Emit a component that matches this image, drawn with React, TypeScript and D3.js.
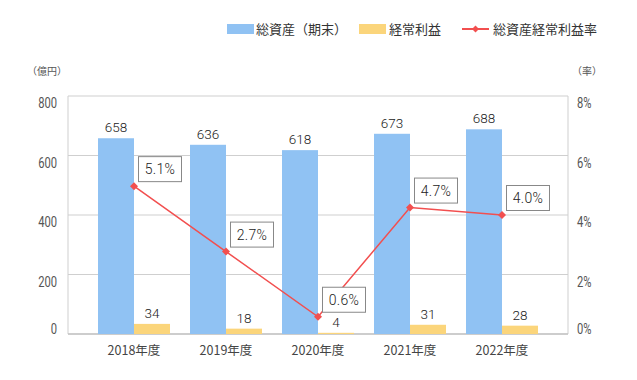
import React from "react";
import * as d3 from "d3";

const categories = ["2018年度", "2019年度", "2020年度", "2021年度", "2022年度"];
const totalAssets = [658, 636, 618, 673, 688];
const ordinaryProfit = [34, 18, 4, 31, 28];
const rateValues = [4.97, 2.77, 0.58, 4.25, 4.0];
const rateLabels = ["5.1%", "2.7%", "0.6%", "4.7%", "4.0%"];
const leftTicks = [0, 200, 400, 600, 800];
const rightTicks = [0, 2, 4, 6, 8];
const legendLabels = ["総資産（期末）", "経常利益", "総資産経常利益率"];

const W = 637;
const H = 380;
const plot = { left: 68, right: 568, top: 96, bottom: 334 };
const BLUE = "#90c2f3";
const YELLOW = "#fbd57b";
const RED = "#f24f4f";
const GRID = "#cfcfcf";
const CJK = "'Noto Sans CJK JP', 'Noto Sans', sans-serif";
const NUM = "Roboto, 'Noto Sans', sans-serif";
const COND = "Roboto, 'DejaVu Sans', sans-serif";

export default function App() {
  const x = d3
    .scaleBand<string>()
    .domain(categories)
    .range([plot.left + 20, plot.right - 20])
    .padding(0);
  const yL = d3.scaleLinear().domain([0, 800]).range([plot.bottom, plot.top]);
  const yR = d3.scaleLinear().domain([0, 8]).range([plot.bottom, plot.top]);
  const barW = 36;
  const center = (c: string) => (x(c) as number) + x.bandwidth() / 2;

  const line = d3
    .line<number>()
    .x((_, i) => center(categories[i]))
    .y((d) => yR(d));

  const diamond = (cx: number, cy: number, r: number) =>
    `M${cx},${cy - r}L${cx + r},${cy}L${cx},${cy + r}L${cx - r},${cy}Z`;

  const tickY = (v: number, scale: (n: number) => number) =>
    Math.min(scale(v) + 12, plot.bottom);

  return (
    <svg width={W} height={H} style={{ display: "block", position: "absolute", left: 0, top: 0 }}>
      <rect width={W} height={H} fill="#fff" />
      {/* legend */}
      <g fontFamily={CJK} fontSize={13} fill="#333">
        <rect x={227} y={24} width={27} height={10} fill={BLUE} />
        <text x={256} y={33.5}>{legendLabels[0]}</text>
        <rect x={359} y={24} width={27} height={10} fill={YELLOW} />
        <text x={389} y={33.5}>{legendLabels[1]}</text>
        <line x1={462} x2={489} y1={29} y2={29} stroke={RED} strokeWidth={2} />
        <path d={diamond(475.5, 29, 3.5)} fill={RED} />
        <text x={493} y={33.5}>{legendLabels[2]}</text>
      </g>
      {/* unit labels */}
      <g fontFamily={CJK} fontSize={10} fill="#555">
        <text x={27} y={74.5}>（億円）</text>
        <text x={572} y={74.5}>（率）</text>
      </g>
      {/* grid */}
      <g>
        {leftTicks.map((t) => (
          <line key={t} x1={plot.left} x2={plot.right} y1={yL(t)} y2={yL(t)} stroke={GRID} strokeWidth={1} />
        ))}
        <line x1={plot.left} x2={plot.left} y1={plot.top} y2={plot.bottom} stroke={GRID} />
        <line x1={plot.right} x2={plot.right} y1={plot.top} y2={plot.bottom} stroke={GRID} />
        <line x1={plot.left} x2={plot.right} y1={plot.bottom} y2={plot.bottom} stroke="#c4c4c4" strokeWidth={1.5} />
      </g>
      {/* axis tick labels */}
      <g fontFamily={COND} fontSize={14} fill="#555">
        {leftTicks.map((t) => (
          <text key={t} transform={`translate(57,${tickY(t, yL)}) scale(0.8,1)`} textAnchor="end">
            {t}
          </text>
        ))}
        {rightTicks.map((t) => (
          <text key={t} transform={`translate(577,${tickY(t, yR)}) scale(0.8,1)`} textAnchor="start">
            {t}%
          </text>
        ))}
      </g>
      {/* bars */}
      <g>
        {categories.map((c, i) => (
          <g key={c}>
            <rect x={center(c) - barW} y={yL(totalAssets[i])} width={barW} height={plot.bottom - yL(totalAssets[i])} fill={BLUE} />
            <rect x={center(c)} y={yL(ordinaryProfit[i])} width={barW} height={plot.bottom - yL(ordinaryProfit[i])} fill={YELLOW} />
          </g>
        ))}
      </g>
      {/* bar value labels */}
      <g fontFamily={NUM} fontSize={13.5} fontWeight={300} fill="#222" textAnchor="middle">
        {categories.map((c, i) => (
          <g key={c}>
            <text x={center(c) - barW / 2} y={yL(totalAssets[i]) - 6}>{totalAssets[i]}</text>
            <text x={center(c) + barW / 2} y={yL(ordinaryProfit[i]) - 6}>{ordinaryProfit[i]}</text>
          </g>
        ))}
      </g>
      {/* category labels */}
      <g fontFamily={CJK} fontSize={12.5} fill="#444" textAnchor="middle">
        {categories.map((c) => (
          <text key={c} x={center(c)} y={355}>{c}</text>
        ))}
      </g>
      {/* rate line */}
      <path d={line(rateValues) || ""} fill="none" stroke={RED} strokeWidth={1.5} />
      {rateValues.map((v, i) => (
        <path key={i} d={diamond(center(categories[i]), yR(v), 4)} fill={RED} />
      ))}
      {/* rate labels */}
      <g fontFamily={NUM} fontSize={14} fontWeight={300} fill="#222">
        {rateValues.map((v, i) => {
          const px = center(categories[i]);
          const py = yR(v);
          const bx = px + 4;
          const by = py - 5 - 25;
          return (
            <g key={i}>
              <rect x={bx + 0.5} y={by + 0.5} width={43} height={25} fill="#fff" stroke="#888" strokeWidth={1} />
              <text x={bx + 22} y={by + 18} textAnchor="middle" letterSpacing={0.3}>
                {rateLabels[i]}
              </text>
            </g>
          );
        })}
      </g>
    </svg>
  );
}
